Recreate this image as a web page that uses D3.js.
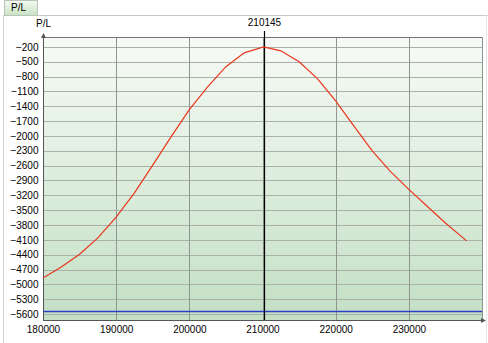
<!DOCTYPE html>
<html>
<head>
<meta charset="utf-8">
<script src="https://cdn.jsdelivr.net/npm/d3@7"></script>
<style>
  body { margin: 0; background: #fff; }
  svg { display: block; font-family: "Liberation Sans", Arial, sans-serif; }
</style>
</head>
<body>
<svg id="chart"></svg>
<script>
// P/L curve vs underlying price
const prices = [180000, 182500, 185000, 187500, 190000, 192500, 195000, 197500, 200000,
  202500, 205000, 207500, 210145, 212500, 215000, 217500, 220000, 222500, 225000,
  227500, 230000, 232500, 235000, 237900];
const pl = [-4870, -4650, -4390, -4060, -3640, -3150, -2590, -2020, -1470,
  -1010, -600, -320, -200, -280, -500, -840, -1290, -1800, -2300,
  -2720, -3080, -3420, -3760, -4120];
const yTicks = [-200, -500, -800, -1100, -1400, -1700, -2000, -2300, -2600, -2900,
  -3200, -3500, -3800, -4100, -4400, -4700, -5000, -5300, -5600];
const xTicks = [180000, 190000, 200000, 210000, 220000, 230000];
const currentPrice = 210145;
const breakEvenLevel = -5540;

const W = 488, H = 343;
const svg = d3.select("#chart").attr("width", W).attr("height", H);

const pLeft = 43, pRight = 482, pTop = 37, pBottom = 320;
const x = d3.scaleLinear().domain([180000, 240000]).range([pLeft, pRight]);
const y = d3.scaleLinear().domain([-5720, 0]).range([pBottom, pTop]);

// tab + frame
const defs = svg.append("defs");
const tabGrad = defs.append("linearGradient").attr("id", "tab").attr("x1", 0).attr("y1", 0).attr("x2", 0).attr("y2", 1);
tabGrad.append("stop").attr("offset", 0).attr("stop-color", "#f4faf2");
tabGrad.append("stop").attr("offset", 1).attr("stop-color", "#c9e2c3");
const bg = defs.append("linearGradient").attr("id", "bg").attr("x1", 0).attr("y1", 0).attr("x2", 0).attr("y2", 1);
bg.append("stop").attr("offset", 0).attr("stop-color", "#f7fbf6");
bg.append("stop").attr("offset", 1).attr("stop-color", "#c3dfc4");

svg.append("line").attr("x1", 38).attr("x2", W).attr("y1", 15.5).attr("y2", 15.5).attr("stroke", "#c8c8c8");
svg.append("rect").attr("x", 4.5).attr("y", 0.5).attr("width", 33).attr("height", 15)
    .attr("fill", "url(#tab)").attr("stroke", "#b8c4b8");
svg.append("text").attr("x", 11).attr("y", 11).attr("font-size", 10).attr("fill", "#000").text("P/L");
svg.append("line").attr("x1", 3.5).attr("x2", 3.5).attr("y1", 15).attr("y2", H).attr("stroke", "#d0d0d0");
svg.append("line").attr("x1", 486.5).attr("x2", 486.5).attr("y1", 15).attr("y2", H).attr("stroke", "#e6e6e6");

// plot background
svg.append("rect").attr("x", pLeft).attr("y", pTop).attr("width", pRight - pLeft).attr("height", pBottom - pTop)
    .attr("fill", "url(#bg)");

// horizontal grid
svg.append("g").selectAll("line").data(yTicks).join("line")
    .attr("x1", pLeft).attr("x2", pRight)
    .attr("y1", d => Math.round(y(d)) + 0.5).attr("y2", d => Math.round(y(d)) + 0.5)
    .attr("stroke", "#a9b1a9");

// vertical grid
svg.append("g").selectAll("line").data(xTicks.slice(1).concat([240000])).join("line")
    .attr("x1", d => Math.round(x(d)) + 0.5).attr("x2", d => Math.round(x(d)) + 0.5)
    .attr("y1", pTop).attr("y2", pBottom)
    .attr("stroke", "#8f968f");

// top frame
svg.append("line").attr("x1", pLeft).attr("x2", pRight).attr("y1", pTop + 0.5).attr("y2", pTop + 0.5)
    .attr("stroke", "#6f746f");

// axes
const yAxis = d3.axisLeft(y).tickValues(yTicks).tickSize(0).tickPadding(5).tickFormat(d3.format("d"));
const gy = svg.append("g").attr("transform", `translate(${pLeft + 0.5},0)`).call(yAxis);
gy.select(".domain").remove();
gy.selectAll("text").attr("font-size", 10).attr("font-family", "Liberation Sans, Arial, sans-serif").attr("fill", "#000");

const xAxis = d3.axisBottom(x).tickValues(xTicks).tickSize(0).tickPadding(6).tickFormat(d3.format("d"));
const gx = svg.append("g").attr("transform", `translate(0,${pBottom})`).call(xAxis);
gx.select(".domain").remove();
gx.selectAll("text").attr("font-size", 10).attr("font-family", "Liberation Sans, Arial, sans-serif").attr("fill", "#000");

svg.append("line").attr("x1", pLeft + 0.5).attr("x2", pLeft + 0.5).attr("y1", pTop - 3).attr("y2", pBottom)
    .attr("stroke", "#555");
svg.append("path").attr("d", `M${pLeft + 0.5},${pTop - 4} L${pLeft - 2},${pTop + 1} L${pLeft + 3},${pTop + 1} Z`).attr("fill", "#555");
svg.append("line").attr("x1", pLeft).attr("x2", pRight + 2).attr("y1", pBottom + 0.5).attr("y2", pBottom + 0.5)
    .attr("stroke", "#555");
svg.append("path").attr("d", `M${pRight + 4},${pBottom + 0.5} L${pRight - 1},${pBottom - 2} L${pRight - 1},${pBottom + 3} Z`).attr("fill", "#555");

svg.append("text").attr("x", 36).attr("y", 27).attr("font-size", 10).attr("fill", "#000").text("P/L");

// blue level line
svg.append("line").attr("x1", pLeft).attr("x2", pRight)
    .attr("y1", Math.round(y(breakEvenLevel)) + 0.5).attr("y2", Math.round(y(breakEvenLevel)) + 0.5)
    .attr("stroke", "#2a3fc8").attr("stroke-width", 1.3);

// current price marker
const cx = Math.round(x(currentPrice)) + 0.5;
svg.append("line").attr("x1", cx).attr("x2", cx).attr("y1", 31).attr("y2", pBottom).attr("stroke", "#000").attr("stroke-width", 1.2);
svg.append("text").attr("x", cx).attr("y", 26).attr("text-anchor", "middle").attr("font-size", 10).attr("fill", "#000")
    .text(currentPrice);

// P/L curve
const line = d3.line().x((d, i) => x(prices[i])).y(d => y(d));
svg.append("path").datum(pl).attr("d", line)
    .attr("fill", "none").attr("stroke", "#e8361e").attr("stroke-width", 1.2);
</script>
</body>
</html>
